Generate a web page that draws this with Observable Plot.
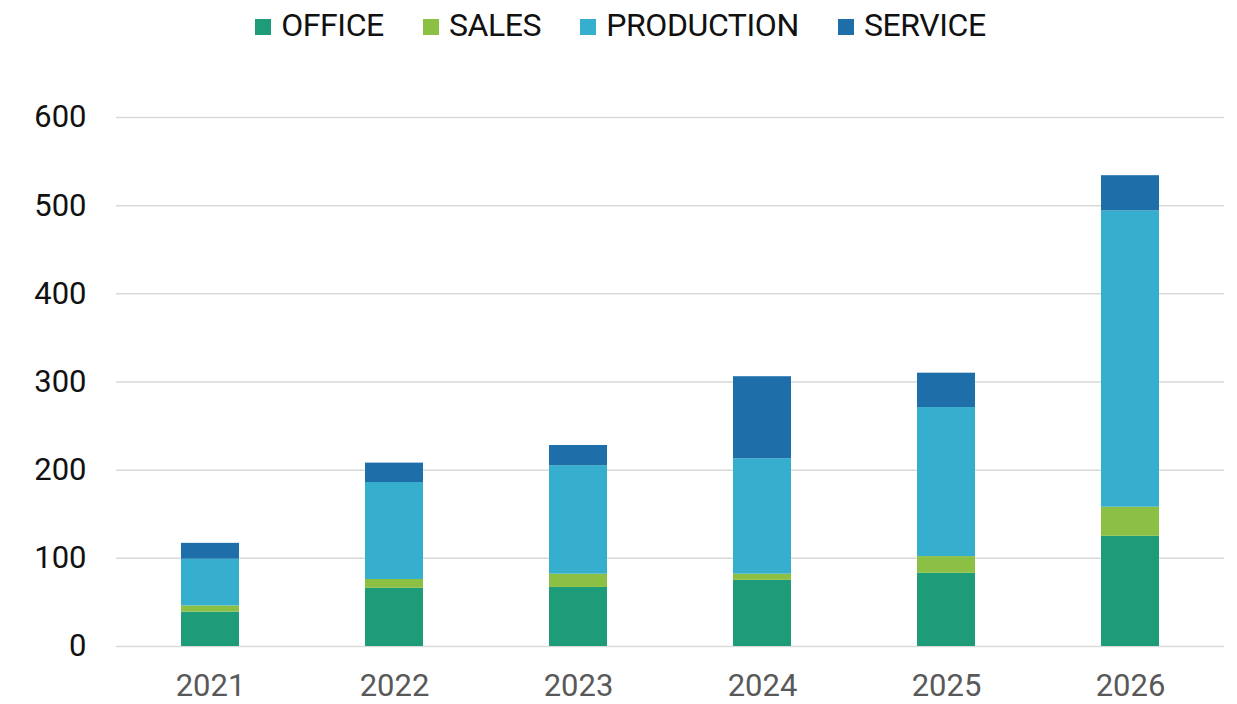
<!DOCTYPE html>
<html>
<head>
<meta charset="utf-8">
<script src="https://cdn.jsdelivr.net/npm/d3@7"></script>
<script src="https://cdn.jsdelivr.net/npm/@observablehq/plot@0.6"></script>
<style>
  html, body { margin: 0; padding: 0; background: #fff; }
  body { width: 1237px; height: 704px; overflow: hidden; font-family: Roboto, sans-serif; }
  #legend { height: 50px; display: flex; justify-content: center; align-items: center; gap: 39px; padding-left: 4px; box-sizing: border-box; }
  .item { display: flex; align-items: center; font-size: 32px; color: #111; letter-spacing: -0.4px; }
  .sw { width: 16px; height: 16px; margin-right: 10px; margin-top: 3px; }
  #chart svg { display: block; }
</style>
</head>
<body>
<div id="legend"></div>
<div id="chart"></div>
<script>
const years = ["2021", "2022", "2023", "2024", "2025", "2026"];
const categories = ["OFFICE", "SALES", "PRODUCTION", "SERVICE"];
const colors = ["#1e9b78", "#8cc045", "#36aecd", "#1e6fa9"];
const office = [39, 66, 67, 75, 83, 125];
const sales = [7, 10, 15, 7, 19, 33];
const production = [53, 110, 123, 131, 169, 336];
const service = [18, 22, 23, 93, 39, 40];
const yTicks = [0, 100, 200, 300, 400, 500, 600];

const series = [office, sales, production, service];
const data = [];
categories.forEach((c, ci) => {
  years.forEach((y, yi) => data.push({year: y, category: c, value: series[ci][yi]}));
});

const legend = document.getElementById("legend");
categories.forEach((c, i) => {
  const it = document.createElement("div");
  it.className = "item";
  const sw = document.createElement("div");
  sw.className = "sw";
  sw.style.background = colors[i];
  const tx = document.createElement("span");
  tx.textContent = c;
  it.appendChild(sw);
  it.appendChild(tx);
  legend.appendChild(it);
});

const chart = Plot.plot({
  width: 1237,
  height: 654,
  marginLeft: 116,
  marginRight: 13,
  marginTop: 67,
  marginBottom: 58,
  style: {fontFamily: "Roboto, sans-serif", background: "#fff"},
  x: {domain: years, paddingInner: 0.686, paddingOuter: 0.343, label: null},
  y: {domain: [0, 600], label: null},
  color: {domain: categories, range: colors},
  marks: [
    Plot.gridY(yTicks, {stroke: "#d9d9d9", strokeOpacity: 1, strokeWidth: 1.5}),
    Plot.barY(data, Plot.stackY({order: categories}, {x: "year", y: "value", fill: "category"})),
    Plot.axisY(yTicks, {tickSize: 0, tickPadding: 30, fontSize: 31, fill: "#111", label: null}),
    Plot.axisX({tickSize: 0, tickPadding: 27, fontSize: 31, fill: "#595959", label: null})
  ]
});
document.getElementById("chart").appendChild(chart);
</script>
</body>
</html>
